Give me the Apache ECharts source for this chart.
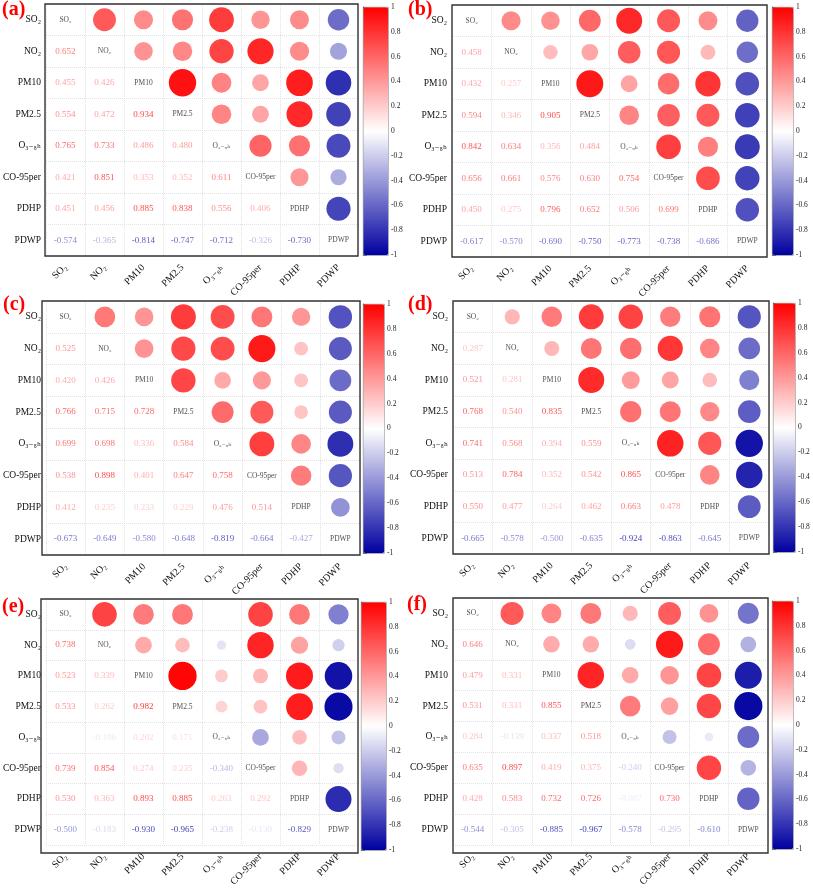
<!DOCTYPE html>
<html>
<head>
<meta charset="utf-8">
<script src="https://cdn.jsdelivr.net/npm/echarts@6/dist/echarts.min.js"></script>
<style>html,body{margin:0;padding:0;background:#fff;}#c{width:813px;height:889px;}</style>
</head>
<body>
<div id="c"></div>
<script>
// Variable names (category labels)
const names = ['SO\u2082','NO\u2082','PM10','PM2.5','O\u2083\u208B\u2088\u2095','CO-95per','PDHP','PDWP'];
// Colorbar tick labels
const barTicks = [1,0.8,0.6,0.4,0.2,0,-0.2,-0.4,-0.6,-0.8,-1];
const panelLetters = ['(a)','(b)','(c)','(d)','(e)','(f)'];

// Lower-triangle correlation coefficients (row i, column j<i)
const panelA = [
  [],
  [0.652],
  [0.455,0.426],
  [0.554,0.472,0.934],
  [0.765,0.733,0.486,0.480],
  [0.421,0.851,0.353,0.352,0.611],
  [0.451,0.456,0.885,0.838,0.556,0.406],
  [-0.574,-0.365,-0.814,-0.747,-0.712,-0.326,-0.730]
];
const panelB = [
  [],
  [0.458],
  [0.432,0.257],
  [0.594,0.346,0.905],
  [0.842,0.634,0.356,0.484],
  [0.656,0.661,0.576,0.630,0.754],
  [0.450,0.275,0.796,0.652,0.506,0.699],
  [-0.617,-0.570,-0.690,-0.750,-0.773,-0.738,-0.686]
];
const panelC = [
  [],
  [0.525],
  [0.420,0.426],
  [0.766,0.715,0.728],
  [0.699,0.698,0.336,0.584],
  [0.538,0.898,0.401,0.647,0.758],
  [0.412,0.235,0.233,0.229,0.476,0.514],
  [-0.673,-0.649,-0.580,-0.648,-0.819,-0.664,-0.427]
];
const panelD = [
  [],
  [0.287],
  [0.521,0.281],
  [0.768,0.540,0.835],
  [0.741,0.568,0.394,0.559],
  [0.513,0.784,0.352,0.542,0.865],
  [0.550,0.477,0.264,0.462,0.663,0.478],
  [-0.665,-0.578,-0.500,-0.635,-0.924,-0.863,-0.645]
];
const panelE = [
  [],
  [0.738],
  [0.523,0.339],
  [0.533,0.262,0.982],
  [0.008,-0.106,0.202,0.171],
  [0.739,0.854,0.274,0.235,-0.340],
  [0.530,0.363,0.893,0.885,0.263,0.292],
  [-0.500,-0.183,-0.930,-0.965,-0.238,-0.130,-0.829]
];
const panelF = [
  [],
  [0.646],
  [0.479,0.331],
  [0.531,0.331,0.855],
  [0.284,-0.139,0.337,0.518],
  [0.635,0.897,0.419,0.375,-0.240],
  [0.428,0.583,0.732,0.726,-0.087,0.730],
  [-0.544,-0.305,-0.885,-0.967,-0.578,-0.295,-0.610]
];
const panels = [panelA,panelB,panelC,panelD,panelE,panelF];

// Layout (pixels): matrix box and colorbar box for each panel
const layout = [
  {box:[45,4,313,252],  bar:[363,7,25,248],  letter:[2,0]},
  {box:[452,5,315,252], bar:[772,7,21,248],  letter:[408,0]},
  {box:[42,301,318,254],bar:[363,304,21,249],letter:[3,295]},
  {box:[453,301,316,253],bar:[773,303,22,249],letter:[408,295]},
  {box:[41,599,317,254],bar:[361,602,25,248],letter:[2,597]},
  {box:[453,598,315,255],bar:[772,601,21,248],letter:[407,595]}
];

const FONT = '"Liberation Serif","Times New Roman","DejaVu Serif",serif';
const NEG = [0,0,160], POS=[255,0,0];
function colorOf(v){
  v = Math.max(-1, Math.min(1, v));
  let c;
  if (v >= 0) c = [255 + (POS[0]-255)*v, 255 + (POS[1]-255)*v, 255 + (POS[2]-255)*v];
  else { const t=-v; c = [255 + (NEG[0]-255)*t, 255 + (NEG[1]-255)*t, 255 + (NEG[2]-255)*t]; }
  return 'rgb(' + c.map(x=>Math.round(x)).join(',') + ')';
}

const option = {
  animation:false,
  backgroundColor:'#fff',
  title:[], grid:[], xAxis:[], yAxis:[], series:[], visualMap:[], graphic:[]
};

panels.forEach((m,k)=>{
  const L = layout[k];
  const [bx,by,bw,bh] = L.box;
  const cellH = bh/8;
  const gi = 2*k, gb = 2*k+1;
  option.title.push({text:panelLetters[k], left:L.letter[0], top:L.letter[1], padding:0,
    textStyle:{color:'#f00', fontSize:20, fontWeight:'bold', fontFamily:FONT}});
  // matrix grid
  option.grid[gi] = {left:bx, top:by, width:bw, height:bh, show:false};
  option.graphic.push({type:'rect', z:100, silent:true,
    shape:{x:bx, y:by, width:bw, height:bh},
    style:{fill:'none', stroke:'#333', lineWidth:1.4}});
  option.xAxis[gi] = {type:'category', gridIndex:gi, data:names, position:'bottom',
    axisLine:{show:false}, axisTick:{show:false},
    axisLabel:{rotate:45, interval:0, fontSize:10, fontFamily:FONT, color:'#111', margin:10},
    splitLine:{show:true, interval:0, lineStyle:{color:'#e2e2e2', type:'dotted', width:1}}};
  option.yAxis[gi] = {type:'category', gridIndex:gi, data:names, inverse:true,
    axisLine:{show:false}, axisTick:{show:false},
    axisLabel:{interval:0, fontSize:9.5, fontFamily:FONT, color:'#111', margin:5},
    splitLine:{show:true, interval:0, lineStyle:{color:'#e2e2e2', type:'dotted', width:1}}};

  const circles=[], texts=[], diag=[];
  for (let i=0;i<8;i++){
    diag.push([i,i]);
    for (let j=0;j<i;j++){
      const v = m[i][j];
      texts.push({value:[j,i,v], label:{color:colorOf(v)}});
      circles.push([i,j,v]);
    }
  }
  const s = 0.9*cellH;
  option.series.push({type:'scatter', xAxisIndex:gi, yAxisIndex:gi, data:circles, silent:true,
    symbol:'circle', symbolSize:function(val){return s*Math.sqrt(Math.abs(val[2]));},
    itemStyle:{opacity:1}});
  option.series.push({type:'scatter', xAxisIndex:gi, yAxisIndex:gi, data:texts, silent:true,
    symbolSize:0, itemStyle:{color:'rgba(0,0,0,0)'},
    label:{show:true, position:'inside', fontSize:9, fontFamily:FONT,
      formatter:p=>p.value[2].toFixed(3)}});
  option.series.push({type:'scatter', xAxisIndex:gi, yAxisIndex:gi, data:diag, silent:true,
    symbolSize:0, itemStyle:{color:'rgba(0,0,0,0)'},
    label:{show:true, position:'inside', fontSize:7.5, fontFamily:FONT, color:'#222',
      formatter:p=>names[p.value[0]]}});

  const [cx,cy,cw,ch] = L.bar;
  option.visualMap.push({type:'continuous', min:-1, max:1, seriesIndex:3*k, dimension:2,
    left:cx, top:cy, itemWidth:cw, itemHeight:ch, padding:0, calculable:false, hoverLink:false,
    showLabel:false, borderColor:'#666', borderWidth:0.6,
    inRange:{color:['rgb(0,0,160)','#ffffff','#ff0000']}});
  // colorbar tick axis
  option.grid[gb] = {left:cx, top:cy, width:cw, height:ch, show:false};
  option.xAxis[gb] = {type:'value', gridIndex:gb, min:0, max:1, show:false};
  option.yAxis[gb] = {type:'value', gridIndex:gb, min:-1, max:1, interval:0.2, position:'right',
    axisLine:{show:true, lineStyle:{color:'#555', width:0.8}},
    axisTick:{show:true, length:4, lineStyle:{color:'#555', width:0.8}},
    splitLine:{show:false},
    axisLabel:{fontSize:7.5, fontFamily:FONT, color:'#222', margin:3,
      formatter:v=>{const r=barTicks.find(t=>Math.abs(t-v)<1e-6); return r===undefined?'':String(r);}}};
});

const chart = echarts.init(document.getElementById('c'));
chart.setOption(option);
</script>
</body>
</html>
